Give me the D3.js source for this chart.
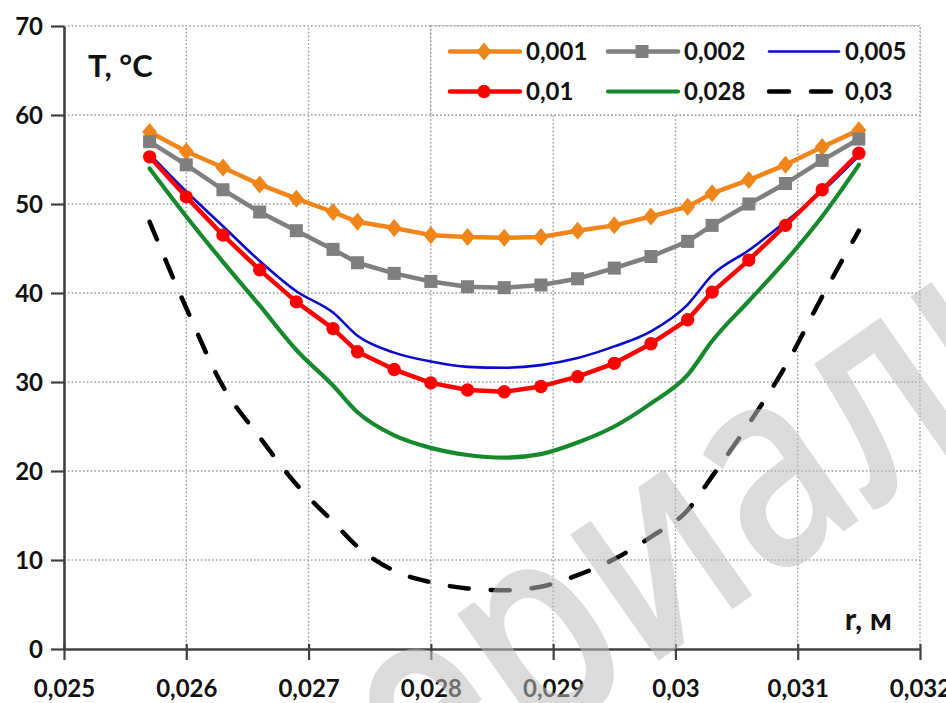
<!DOCTYPE html>
<html>
<head>
<meta charset="utf-8">
<script src="https://cdn.jsdelivr.net/npm/d3@7"></script>
<style>
  body { margin: 0; background: #fff; }
  svg { display: block; }
</style>
</head>
<body>
<svg id="chart" width="946" height="703"></svg>
<script>
// Radius of the section, m
const radius = [0.0257, 0.026, 0.0263, 0.0266, 0.0269, 0.0272, 0.0274, 0.0277, 0.028, 0.0283, 0.0286,
                0.0289, 0.0292, 0.0295, 0.0298, 0.0301, 0.0303, 0.0306, 0.0309, 0.0312, 0.0315];

// Temperature profiles, °C
const temp001 = [58.1, 55.9, 54.1, 52.2, 50.6, 49.1, 48.0, 47.3, 46.5, 46.3, 46.2, 46.3, 47.0, 47.6, 48.6, 49.7, 51.2, 52.7, 54.4, 56.4, 58.3];
const temp002 = [57.0, 54.4, 51.6, 49.1, 47.0, 44.9, 43.4, 42.2, 41.3, 40.7, 40.6, 40.9, 41.6, 42.8, 44.1, 45.8, 47.6, 50.0, 52.3, 54.9, 57.3];
const temp005 = [55.6, 51.4, 47.5, 43.6, 40.2, 37.8, 35.2, 33.3, 32.3, 31.7, 31.6, 31.9, 32.7, 34.0, 35.7, 38.7, 42.0, 44.8, 48.0, 51.4, 55.4];
const temp01  = [55.3, 50.8, 46.5, 42.6, 39.0, 36.0, 33.4, 31.4, 29.9, 29.1, 28.9, 29.5, 30.6, 32.1, 34.3, 37.0, 40.1, 43.7, 47.6, 51.6, 55.7];
const temp028 = [54.0, 48.6, 43.5, 38.6, 33.6, 29.6, 26.6, 24.0, 22.6, 21.8, 21.5, 21.9, 23.2, 25.0, 27.6, 30.8, 34.6, 39.1, 43.6, 48.6, 54.4];
const temp03  = [48.0, 38.3, 29.5, 23.8, 18.5, 14.3, 11.5, 8.8, 7.5, 6.8, 6.6, 7.0, 8.3, 10.1, 12.6, 15.6, 19.4, 25.3, 31.8, 39.6, 47.0];

const seriesNames = ["0,001", "0,002", "0,005", "0,01", "0,028", "0,03"];

// Axis ticks
const xTicks = [0.025, 0.026, 0.027, 0.028, 0.029, 0.03, 0.031, 0.032];
const xTickLabels = ["0,025", "0,026", "0,027", "0,028", "0,029", "0,03", "0,031", "0,032"];
const yTicks = [0, 10, 20, 30, 40, 50, 60, 70];
const yTickLabels = ["0", "10", "20", "30", "40", "50", "60", "70"];

// Drawing styles for each series (same order as seriesNames)
const styles = [
  { color: "#F0861A", width: 4.5, marker: "diamond", curve: d3.curveLinear },
  { color: "#7F7F7F", width: 4.5, marker: "square",  curve: d3.curveLinear },
  { color: "#0A0AC8", width: 2.6, marker: null,      curve: d3.curveMonotoneX },
  { color: "#FF0000", width: 4.5, marker: "circle",  curve: d3.curveLinear },
  { color: "#15892C", width: 4.2, marker: null,      curve: d3.curveMonotoneX },
  { color: "#000000", width: 4.5, marker: null,      curve: d3.curveMonotoneX, dash: "19,22" }
];

const values = [temp001, temp002, temp005, temp01, temp028, temp03];
const series = seriesNames.map((name, i) => ({
  name,
  style: styles[i],
  points: radius.map((r, j) => [r, values[i][j]])
}));

const FONT = "Lato, 'Open Sans', sans-serif";
const svg = d3.select("#chart");

const x = d3.scaleLinear().domain([0.025, 0.032]).range([64, 920]);
const y = d3.scaleLinear().domain([0, 70]).range([649, 26]);

// Dotted grid
const grid = svg.append("g")
  .attr("stroke", "#9a9a9a")
  .attr("stroke-width", 1.4)
  .attr("stroke-dasharray", "1.6,2.2");
grid.selectAll("line.v").data(xTicks.slice(1)).join("line")
  .attr("x1", d => x(d)).attr("x2", d => x(d))
  .attr("y1", y(0)).attr("y2", y(70));
grid.selectAll("line.h").data(yTicks.slice(1)).join("line")
  .attr("x1", x(0.025)).attr("x2", x(0.032))
  .attr("y1", d => y(d)).attr("y2", d => y(d));

// Axes
const axisColor = "#404040";
const gy = svg.append("g")
  .attr("transform", `translate(${x(0.025)},0)`)
  .call(d3.axisLeft(y).tickValues(yTicks).tickSize(13).tickSizeOuter(0).tickPadding(8)
    .tickFormat((d, i) => yTickLabels[i]));
const gx = svg.append("g")
  .attr("transform", `translate(0,${y(0)})`)
  .call(d3.axisBottom(x).tickValues(xTicks).tickSize(11).tickSizeOuter(0)
    .tickFormat((d, i) => xTickLabels[i]));

[gx, gy].forEach(g => {
  g.select(".domain").attr("stroke", axisColor).attr("stroke-width", 2.6);
  g.selectAll(".tick line").attr("stroke", axisColor).attr("stroke-width", 2.2);
  g.selectAll(".tick text")
    .attr("fill", "#111")
    .style("font-family", FONT)
    .style("font-weight", "700")
    .style("font-size", "24px");
});
gx.selectAll(".tick line").attr("y1", -5);
gx.selectAll(".tick text").attr("y", 48).attr("dy", 0);
gy.selectAll(".tick text").attr("dy", "0.36em");

// Axis titles
svg.append("text")
  .attr("x", 88).attr("y", 77)
  .style("font-family", FONT).style("font-size", "31px").style("font-weight", "700")
  .attr("fill", "#111")
  .text("T, °C");
svg.append("text")
  .attr("x", 892).attr("y", 630).attr("text-anchor", "end")
  .style("font-family", FONT).style("font-size", "31px").style("font-weight", "700")
  .attr("fill", "#111")
  .text("r, м");

// Markers
const diamondPath = "M0,-9L7.5,0L0,9L-7.5,0Z";
function drawMarker(sel, kind, color) {
  if (kind === "diamond") sel.append("path").attr("d", diamondPath).attr("fill", color);
  else if (kind === "square") sel.append("path").attr("d", d3.symbol(d3.symbolSquare, 170)()).attr("fill", color);
  else if (kind === "circle") sel.append("path").attr("d", d3.symbol(d3.symbolCircle, 140)()).attr("fill", color);
}

// Series lines and markers
const plot = svg.append("g");
series.forEach(s => {
  const line = d3.line().x(d => x(d[0])).y(d => y(d[1])).curve(s.style.curve);
  plot.append("path")
    .datum(s.points)
    .attr("d", line)
    .attr("fill", "none")
    .attr("stroke", s.style.color)
    .attr("stroke-width", s.style.width)
    .attr("stroke-linejoin", "round")
    .attr("stroke-linecap", "round")
    .attr("stroke-dasharray", s.style.dash || null);
  if (s.style.marker) {
    plot.append("g").selectAll("g").data(s.points).join("g")
      .attr("transform", d => `translate(${x(d[0])},${y(d[1])})`)
      .each(function () { drawMarker(d3.select(this), s.style.marker, s.style.color); });
  }
});

// Legend
const legend = svg.append("g");
legend.append("rect")
  .attr("x", x(0.028)).attr("y", y(70))
  .attr("width", x(0.032) - x(0.028)).attr("height", y(60) - y(70))
  .attr("fill", "#fff")
  .attr("stroke", "#9a9a9a").attr("stroke-width", 1.4).attr("stroke-dasharray", "1.6,2.2");
const colX = [450, 608, 769];
const rowY = [51.5, 91.5];
series.forEach((s, i) => {
  const lx = colX[i % 3], ly = rowY[Math.floor(i / 3)];
  const item = legend.append("g").attr("transform", `translate(${lx},${ly})`);
  item.append("line")
    .attr("x1", 0).attr("x2", 70).attr("y1", 0).attr("y2", 0)
    .attr("stroke", s.style.color)
    .attr("stroke-width", s.style.width)
    .attr("stroke-linecap", "round")
    .attr("stroke-dasharray", s.style.dash ? "20,22" : null);
  if (s.style.marker) {
    drawMarker(item.append("g").attr("transform", "translate(34,0)"), s.style.marker, s.style.color);
  }
  item.append("text")
    .attr("x", 76).attr("y", 0).attr("dy", "0.36em")
    .style("font-family", FONT).style("font-size", "24px").style("font-weight", "700")
    .attr("fill", "#111")
    .text(s.name);
});

// Publisher's watermark across the plot
svg.append("text")
  .attr("transform", "translate(83,1064) rotate(-35) scale(0.78,1)")
  .style("font-family", "'Open Sans', sans-serif")
  .style("font-size", "285px")
  .style("font-weight", "600")
  .attr("fill", "#bdbdbd")
  .attr("fill-opacity", 0.55)
  .text("материалы");
</script>
</body>
</html>
